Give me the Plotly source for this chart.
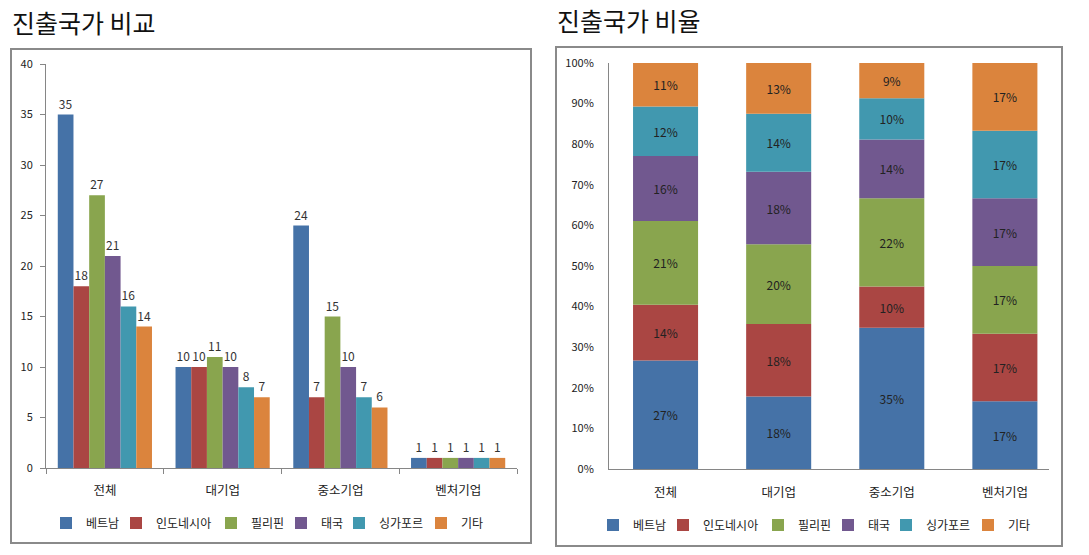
import math
import plotly.graph_objects as go

categories = ["전체", "대기업", "중소기업", "벤처기업"]
series_names = ["베트남", "인도네시아", "필리핀", "태국", "싱가포르", "기타"]
vietnam = [35, 10, 24, 1]
indonesia = [18, 10, 7, 1]
philippines = [27, 11, 15, 1]
thailand = [21, 10, 10, 1]
singapore = [16, 8, 7, 1]
others = [14, 7, 6, 1]
left_ticks = [0, 5, 10, 15, 20, 25, 30, 35, 40]
right_ticks = [0, 10, 20, 30, 40, 50, 60, 70, 80, 90, 100]
right_tick_labels = ["0%", "10%", "20%", "30%", "40%", "50%", "60%", "70%", "80%", "90%", "100%"]

series_values = [vietnam, indonesia, philippines, thailand, singapore, others]
colors = ["#4572A7", "#AA4643", "#89A54E", "#71588F", "#4198AF", "#DB843D"]
legend_widths = [25, 50, 25, 13, 37, 24]

W, H = 1089, 555
def px(x):
    return x / W
def py(y):
    return 1 - y / H

FONT = "Noto Sans CJK KR"
fig = go.Figure()

totals = [sum(s[i] for s in series_values) for i in range(len(categories))]

for name, vals, col, lw in zip(series_names, series_values, colors, legend_widths):
    fig.add_trace(go.Bar(
        x=categories, y=vals, name=name, marker=dict(color=col, line=dict(width=0)),
        text=[str(v) for v in vals], textposition="outside", cliponaxis=False,
        textfont=dict(size=12, color="#333333", family=FONT),
        constraintext="none", xaxis="x", yaxis="y", legend="legend", legendwidth=lw,
        hoverinfo="skip",
    ))

cum = [0.0] * len(categories)
for name, vals, col, lw in zip(series_names, series_values, colors, legend_widths):
    shares = [v / t * 100 for v, t in zip(vals, totals)]
    fig.add_trace(go.Bar(
        x=categories, y=shares, base=list(cum), offsetgroup="stack", width=0.575,
        name=name, marker=dict(color=col, line=dict(width=0)),
        text=[f"{math.floor(s + 0.5)}%" for s in shares], textposition="inside",
        insidetextanchor="middle",
        textfont=dict(size=12, color="#222222", family=FONT),
        constraintext="none", xaxis="x2", yaxis="y2", legend="legend2", legendwidth=lw,
        hoverinfo="skip",
    ))
    cum = [c + s for c, s in zip(cum, shares)]

axis_color = "#868686"
tick_font = dict(size=11, color="#222222", family=FONT)
cat_font = dict(size=12.5, color="#222222", family=FONT)

fig.update_layout(
    width=W, height=H, autosize=False,
    margin=dict(l=0, r=0, t=0, b=0, pad=0, autoexpand=False),
    paper_bgcolor="white", plot_bgcolor="white",
    font=dict(family=FONT),
    barmode="group", bargap=0.2, bargroupgap=0,
    xaxis=dict(domain=[px(46), px(517)], anchor="y", showline=True, linecolor=axis_color,
               linewidth=1, ticks="outside", tickson="boundaries", ticklen=5,
               tickcolor=axis_color, tickfont=cat_font, ticklabelstandoff=11,
               showgrid=False, zeroline=False, automargin=False),
    yaxis=dict(domain=[py(468), py(64)], anchor="x", range=[0, 40], tickvals=left_ticks,
               showline=True, linecolor=axis_color, linewidth=1, ticks="outside",
               ticklen=5, tickcolor=axis_color, tickfont=tick_font, ticklabelstandoff=5,
               showgrid=False, zeroline=False, automargin=False),
    xaxis2=dict(domain=[px(609), px(1049)], anchor="y2", range=[-0.5, 3.39],
                showline=True, linecolor=axis_color, linewidth=1, ticks="",
                tickfont=cat_font, ticklabelstandoff=12, showgrid=False, zeroline=False,
                automargin=False),
    yaxis2=dict(domain=[py(469), py(63)], anchor="x2", range=[0, 100],
                tickmode="array", tickvals=right_ticks, ticktext=right_tick_labels,
                showline=True, linecolor=axis_color, linewidth=1, ticks="",
                tickfont=tick_font, ticklabelstandoff=12, showgrid=False, zeroline=False,
                automargin=False),
    legend=dict(orientation="h", x=px(268), xanchor="center", y=py(523), yanchor="middle",
                font=dict(size=12, color="#222222", family=FONT), itemwidth=30,
                bgcolor="rgba(0,0,0,0)"),
    legend2=dict(orientation="h", x=px(815), xanchor="center", y=py(525), yanchor="middle",
                 font=dict(size=12, color="#222222", family=FONT), itemwidth=30,
                 bgcolor="rgba(0,0,0,0)"),
    showlegend=True,
)

fig.add_shape(type="rect", xref="paper", yref="paper", x0=px(11), x1=px(531),
              y0=py(543), y1=py(49), line=dict(color="#8a8a8a", width=2), layer="below")
fig.add_shape(type="rect", xref="paper", yref="paper", x0=px(556), x1=px(1062),
              y0=py(546), y1=py(47), line=dict(color="#8a8a8a", width=2), layer="below")

fig.add_annotation(text="진출국가 비교", xref="paper", yref="paper", x=px(10), y=py(22),
                   xanchor="left", yanchor="middle", showarrow=False,
                   font=dict(size=25, color="#111111", family=FONT))
fig.add_annotation(text="진출국가 비율", xref="paper", yref="paper", x=px(555), y=py(20),
                   xanchor="left", yanchor="middle", showarrow=False,
                   font=dict(size=25, color="#111111", family=FONT))

fig.write_html("out.html", config={"displayModeBar": False},
               post_script="document.body.style.margin='0';document.body.style.overflow='hidden';")
